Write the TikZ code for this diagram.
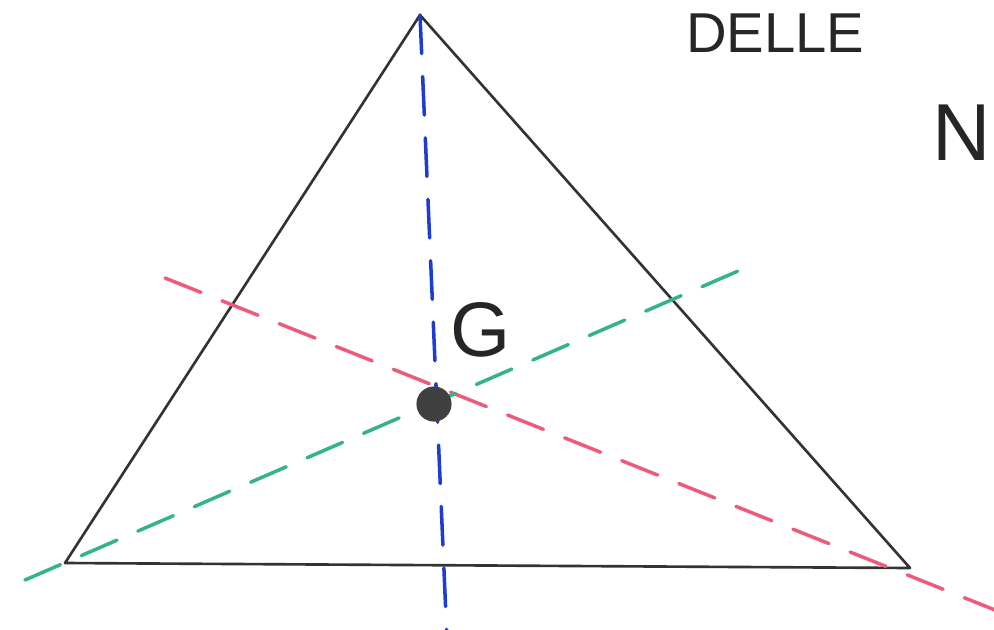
\documentclass[tikz,border=0pt]{standalone}
\usepackage{fontspec}
\setmainfont{Liberation Sans}
\usepackage{xcolor}
\usepackage{tikz}
\usetikzlibrary{positioning,calc}

\definecolor{medblue}{HTML}{1E3CD0}
\definecolor{medred}{HTML}{EE5A78}
\definecolor{medgreen}{HTML}{35B388}

\begin{document}
\begin{tikzpicture}[
    x=0.02cm, y=-0.02cm,
    side/.style  = {draw=black!80, line width=1.5pt, line cap=round, line join=round},
    med/.style   = {line width=2pt, line cap=round, dash pattern=on 22pt off 13pt},
    hand/.style  = {inner sep=0pt, anchor=base west, text=black!85},
    dot/.style   = {circle, fill=black!75, minimum size=20pt, inner sep=0pt},
]
\useasboundingbox (0,0) rectangle (994,629);
\clip (0,0) rectangle (994,629);

%--- vertices of the triangle
\coordinate (A) at (420,15);
\coordinate (B) at (65,563);
\coordinate (C) at (910,568);

%--- free ends of the medians
\coordinate (blueEnd) at (447,640);
\coordinate (redStart) at (165,278);
\coordinate (redEnd) at (1000,612);
\coordinate (greenStart) at (25,580);
\coordinate (greenEnd) at (752,265);

%--- triangle
\draw[side] (A) -- (C) -- (B) -- cycle;

%--- medians
\draw[med, medblue] (A) -- (blueEnd);
\draw[med, medred] (redStart) -- (redEnd);
\draw[med, medgreen] (greenStart) -- (greenEnd);

%--- centroid
\node[dot] (G) at (434,404) {};
\node[hand, font=\fontsize{44}{44}\selectfont] (Glab) at (450,356) {G};

%--- writing at the edges
\node[hand, font=\fontsize{32}{32}\selectfont] (title) at (686,52) {DELLE};
\node[hand, font=\fontsize{46}{46}\selectfont] (nlab) at (932,160) {N};

\end{tikzpicture}
\end{document}
